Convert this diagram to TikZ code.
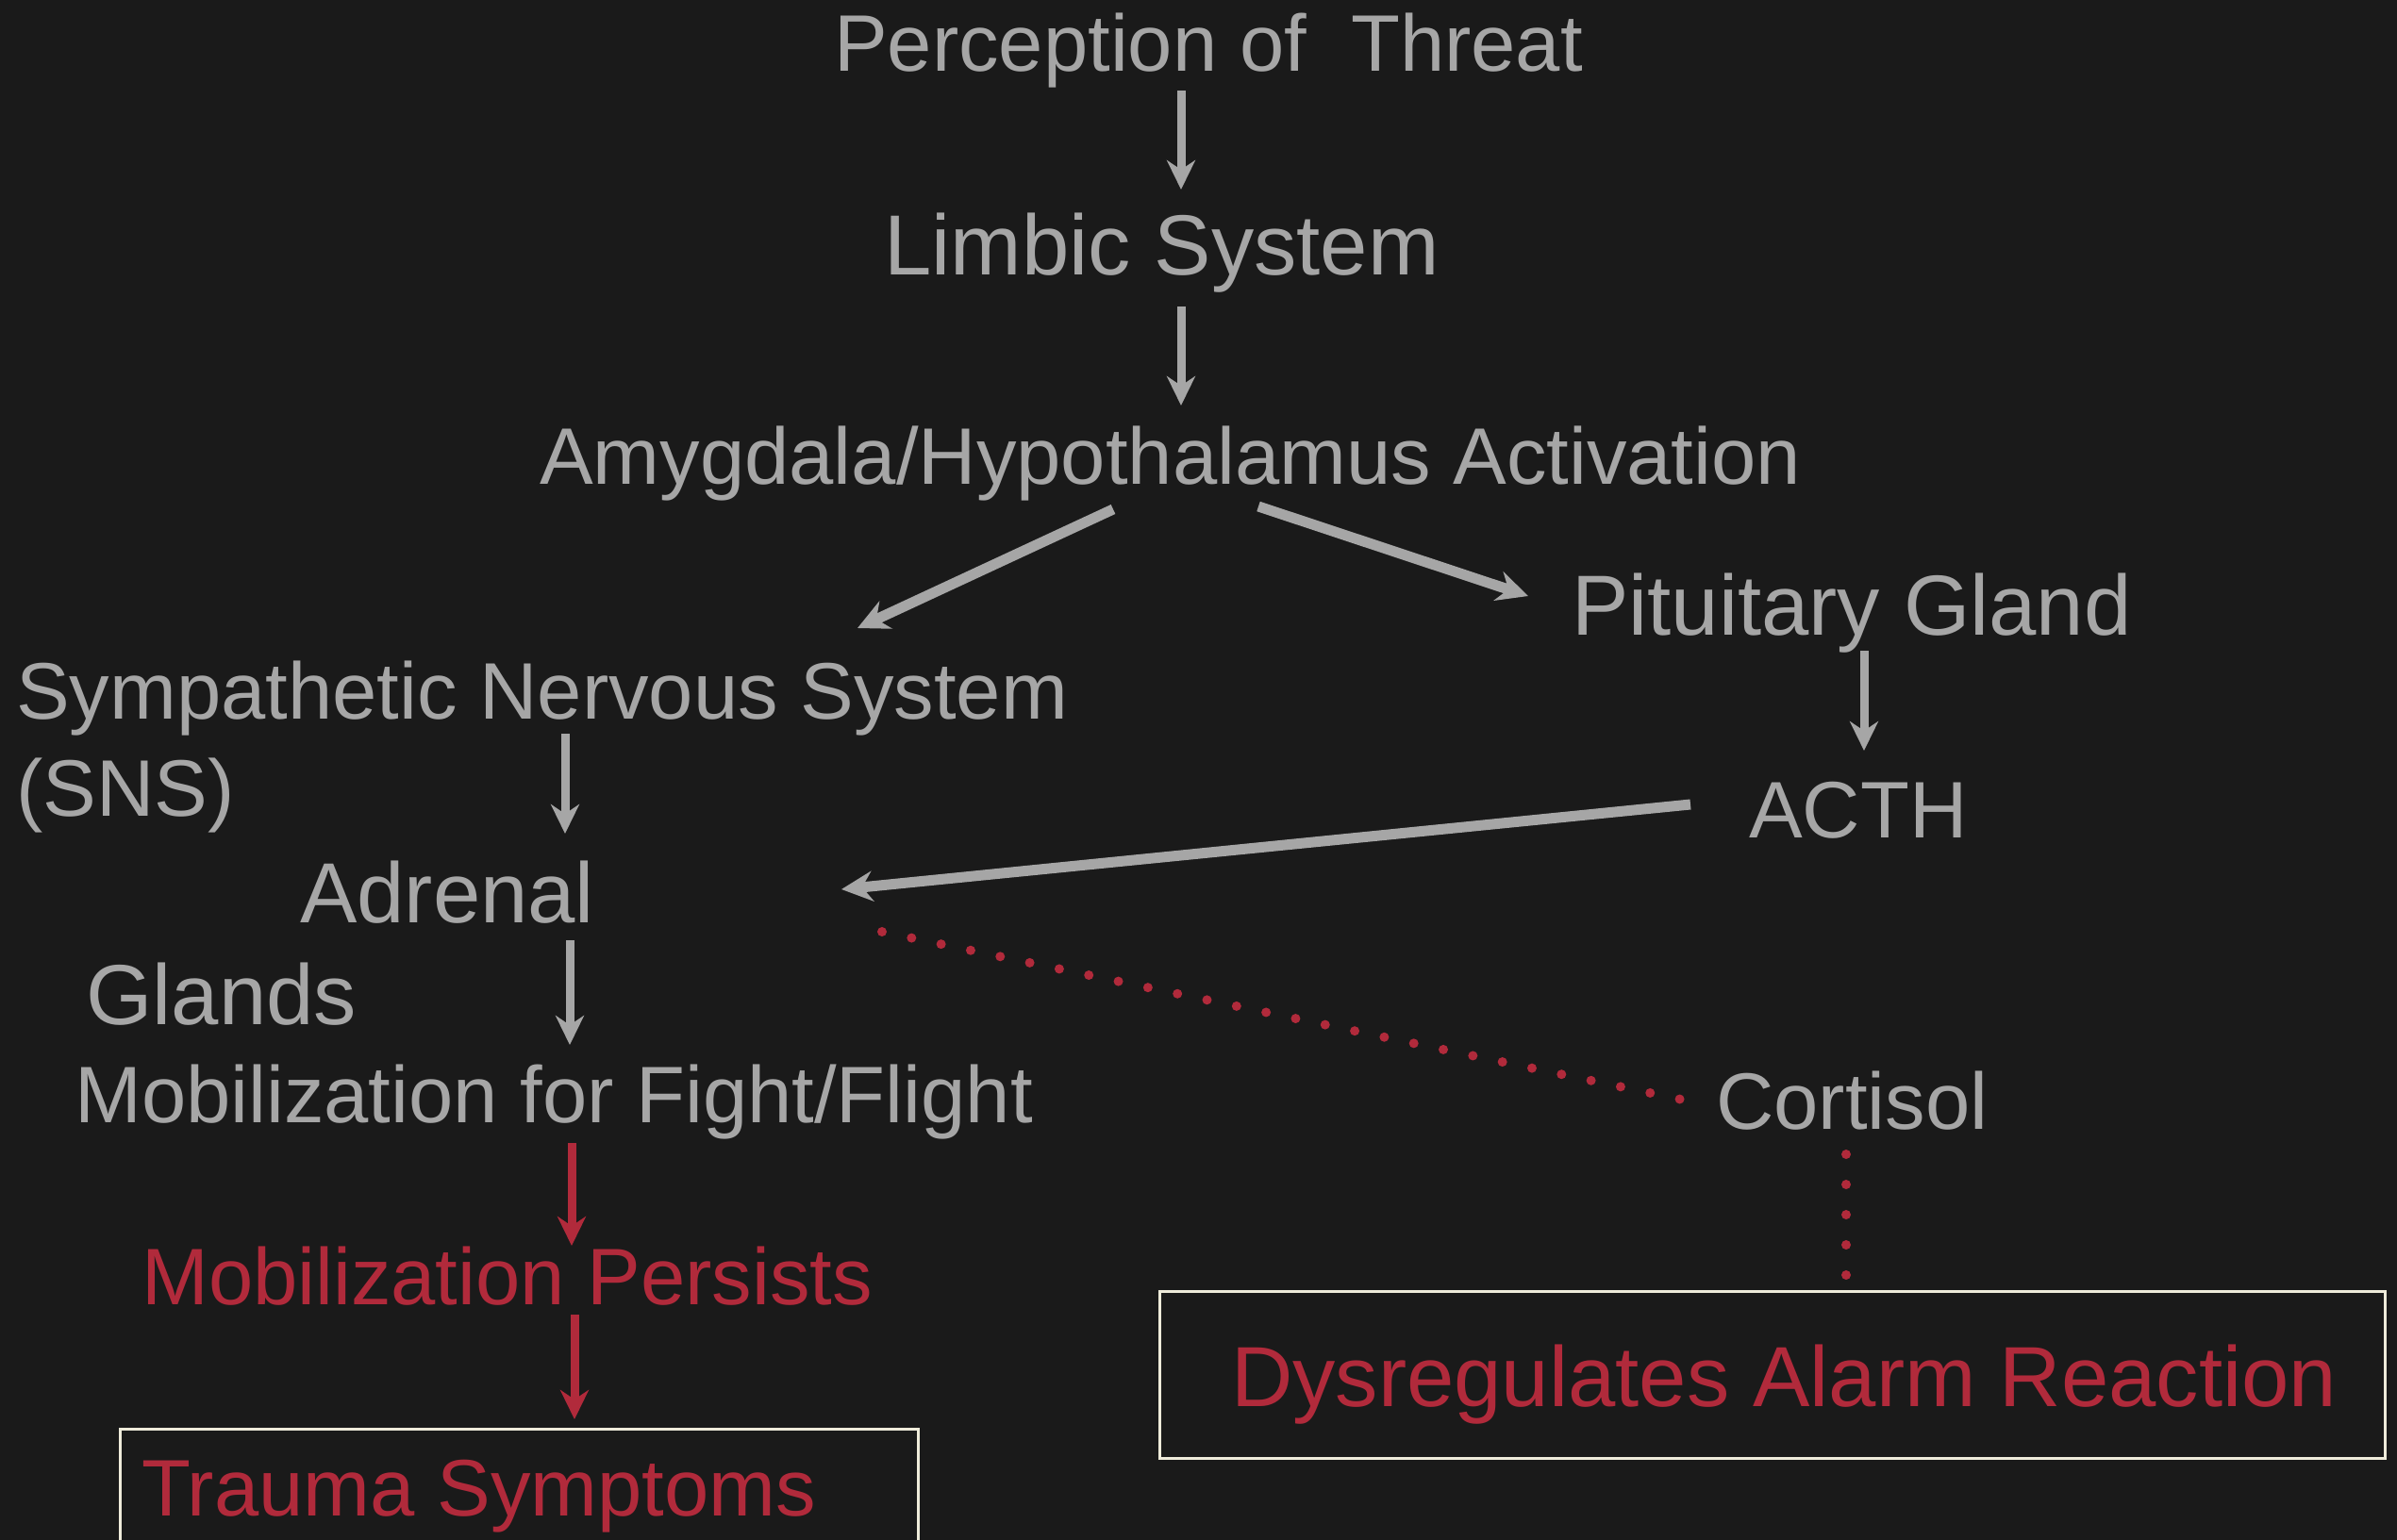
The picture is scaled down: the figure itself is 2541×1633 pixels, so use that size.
\documentclass[tikz,border=0pt]{standalone}
\usepackage{fontspec}
\setmainfont{Liberation Sans}
\usetikzlibrary{arrows.meta,calc}
\definecolor{bg}{HTML}{1A1A1A}
\definecolor{txtgray}{HTML}{A6A6A6}
\definecolor{alarmred}{HTML}{B12A3B}
\definecolor{boxline}{HTML}{EEEBDA}

\begin{document}
\begin{tikzpicture}[x=1pt,y=-1pt,
  lbl/.style={anchor=base west, inner sep=0pt, text=txtgray, font=\fontsize{85}{100}\selectfont},
  biglbl/.style={lbl, font=\fontsize{90.5}{106}\selectfont},
  redlbl/.style={lbl, text=alarmred},
  flow/.style={draw=txtgray, line width=9pt, -{Stealth[length=31pt,width=30pt,inset=10pt]}},
  thickflow/.style={flow, line width=11pt, -{Stealth[length=33pt,width=32pt,inset=11pt]}},
  redflow/.style={flow, draw=alarmred, fill=alarmred},
  dots/.style={draw=alarmred, line width=10pt, line cap=round, dash pattern=on 0pt off 32pt},
  framebox/.style={draw=boxline, line width=3pt, anchor=north west, inner sep=0pt}
]
% page and background
\clip (0,0) rectangle (2541,1633);
\fill[bg] (0,0) rectangle (2541,1633);

% framed outcome boxes
\node[framebox, minimum width=846pt, minimum height=200pt] (traumabox) at (126,1514) {};
\node[framebox, minimum width=1299pt, minimum height=177pt] (dysbox) at (1228,1368) {};

% labels
\node[lbl] (perc)   at (884,75)   {Perception of\ \ Threat};
\node[biglbl] (limb)   at (937,291)  {Limbic System};
\node[lbl] (amyg)   at (572,513)  {Amygdala/Hypothalamus Activation};
\node[biglbl] (pit)    at (1666,673) {Pituitary Gland};
\node[lbl] (acth)   at (1854,888) {ACTH};
\node[lbl] (symp)   at (17,762)   {Sympathetic Nervous System};
\node[lbl] (sns)    at (17,865)   {(SNS)};
\node[biglbl] (adr)    at (318,978)  {Adrenal};
\node[biglbl] (glands) at (91,1086)  {Glands};
\node[lbl] (mob)    at (79,1190)  {Mobilization for Fight/Flight};
\node[lbl] (cort)   at (1819,1197) {Cortisol};
\node[redlbl] (pers)   at (150,1383) {Mobilization Persists};
\node[redlbl] (trauma) at (150,1607) {Trauma Symptoms};
\node[biglbl, text=alarmred] (dys) at (1305,1491) {Dysregulates Alarm Reaction};

% main chain
\draw[flow] ($(perc.base west)+(368,21)$) -- ($(limb.base west)+(315,-90)$);
\draw[flow] ($(limb.base west)+(315,34)$) -- ($(amyg.base west)+(680,-83)$);
\draw[thickflow] ($(amyg.base west)+(608,27)$) -- ($(symp.base west)+(892,-96)$);
\draw[thickflow] ($(amyg.base west)+(762,24)$) -- ($(pit.base west)+(-46,-41)$);
\draw[flow] ($(pit.base west)+(310,17)$) -- ($(acth.base west)+(122,-92)$);
\draw[thickflow] ($(acth.base west)+(-62,-35)$) -- ($(adr.base west)+(574,-35)$);
\draw[flow] ($(symp.base west)+(582,16)$) -- ($(adr.base west)+(281,-94)$);
\draw[flow] ($(adr.base west)+(286,19)$) -- ($(mob.base west)+(525,-82)$);

% persistent response
\draw[redflow] ($(mob.base west)+(527,22)$) -- ($(pers.base west)+(456,-62)$);
\draw[redflow] ($(pers.base west)+(459,11)$) -- ($(traumabox.north west)+(483,-9)$);

% cortisol pathway
\draw[dots] ($(adr.base west)+(617,10)$) -- ($(cort.base west)+(-36,-31)$);
\draw[dots] ($(cort.base west)+(138,27)$) -- ($(dysbox.north west)+(729,-13)$);
\end{tikzpicture}
\end{document}
